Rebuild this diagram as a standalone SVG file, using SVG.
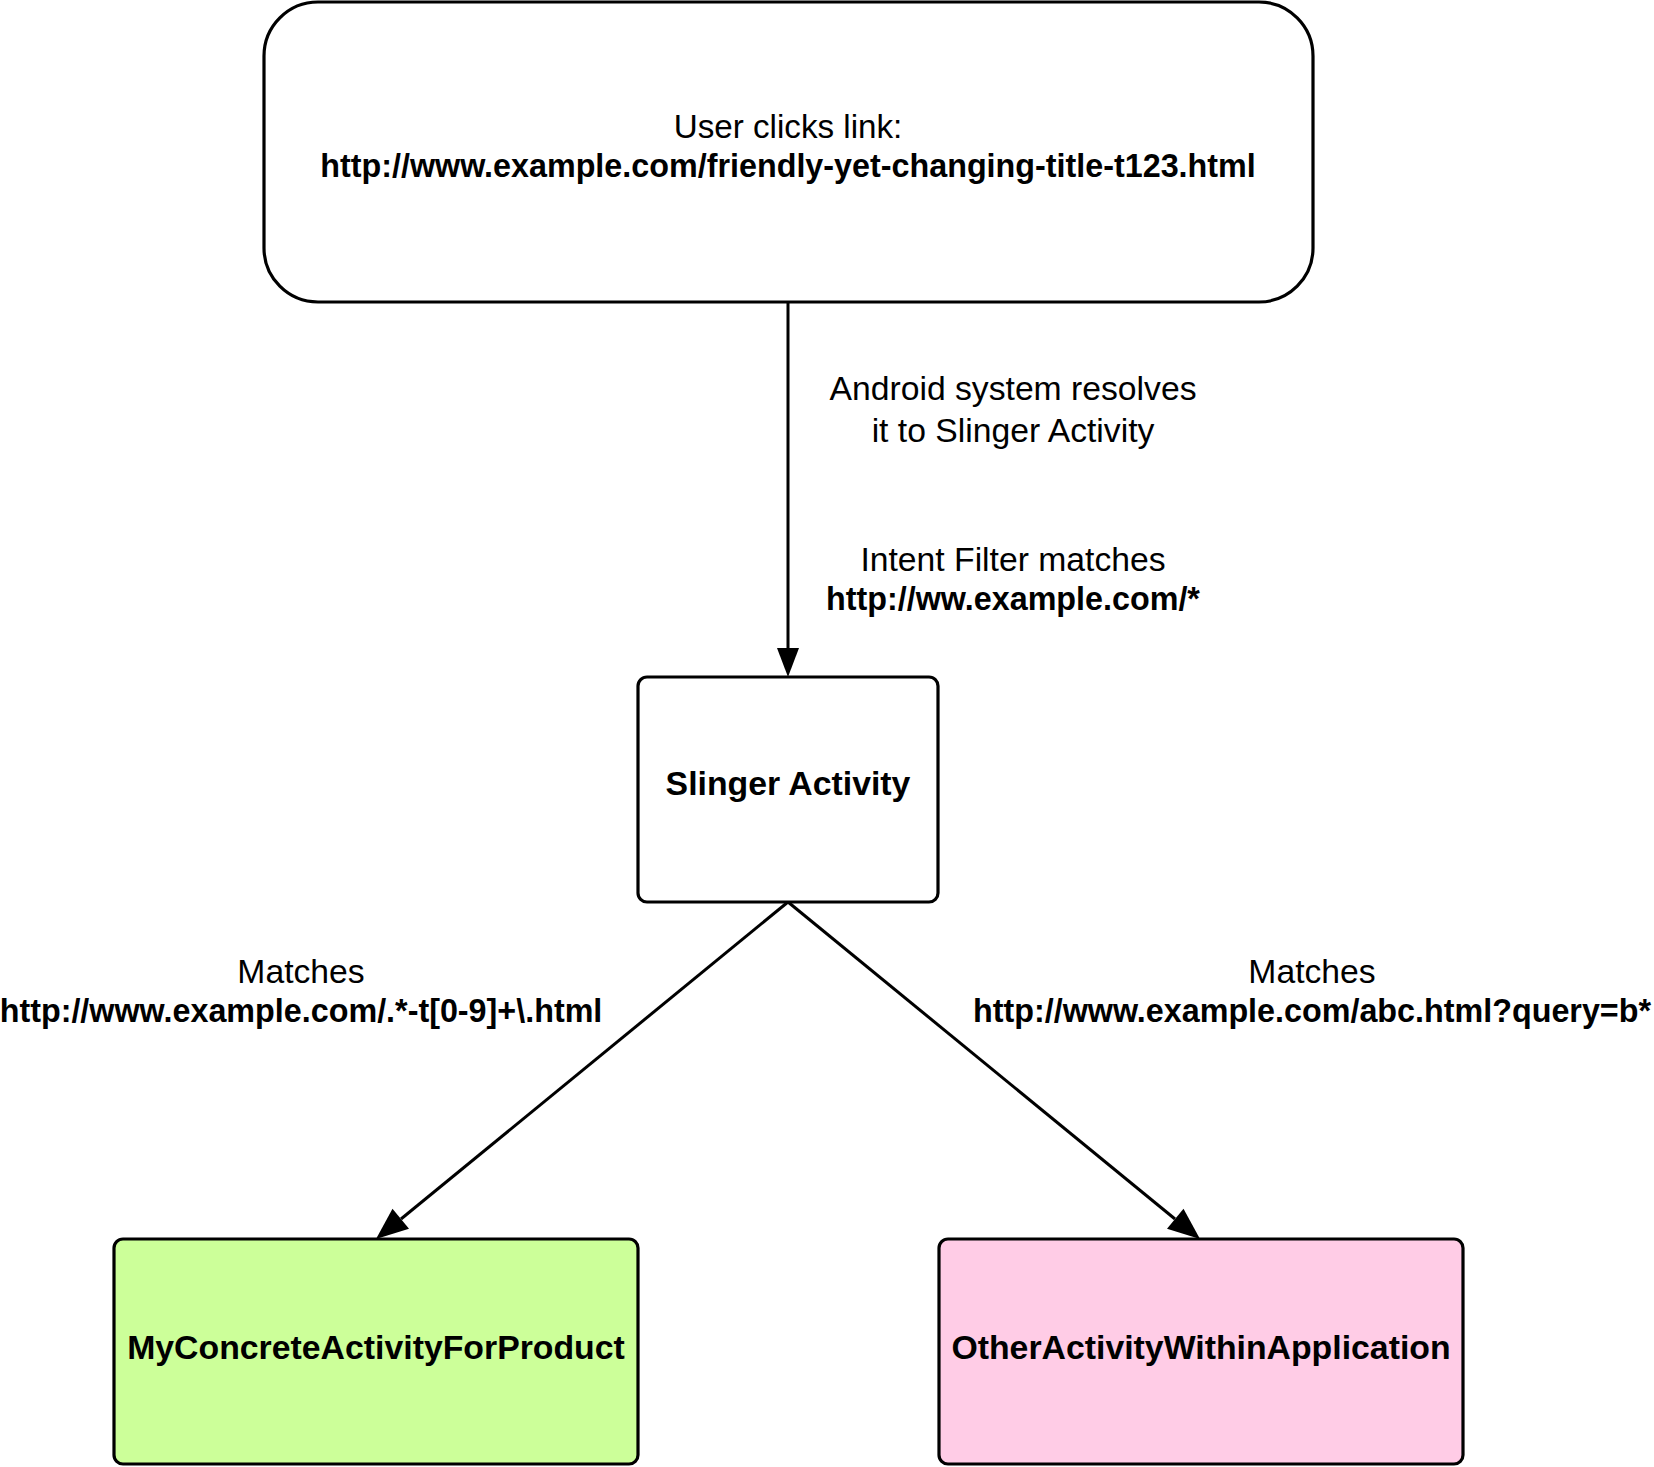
<svg xmlns="http://www.w3.org/2000/svg" width="1654" height="1467" viewBox="0 0 1654 1467">
<style>
.box{stroke:#000;stroke-width:3.2}
.t{font-family:"Liberation Sans",Arial,sans-serif;font-size:33.7px;fill:#000;text-anchor:middle}
.b{font-weight:bold;font-size:32.3px}
.n{font-weight:bold;font-size:33.8px}
.c{stroke:#000;stroke-width:3;fill:none}
.ah{fill:#000}
</style>
<rect width="1654" height="1467" fill="#fff"/>
<g id="connectors">
<line class="c" x1="788" y1="302" x2="788" y2="650"/>
<polygon class="ah" points="777,648 799,648 788,677"/>
<line class="c" x1="788" y1="902" x2="401" y2="1219"/>
<polygon class="ah" points="376,1239 392.5,1208.7 409.0,1228.8"/>
<line class="c" x1="788" y1="902" x2="1175" y2="1219"/>
<polygon class="ah" points="1200,1239 1167.0,1228.8 1183.5,1208.7"/>
<g id="label-resolve">
<text class="t" x="1013" y="400">Android system resolves</text>
<text class="t" x="1013" y="442">it to Slinger Activity</text>
<text class="t" x="1013" y="571">Intent Filter matches</text>
<text class="t b" x="1013" y="610">http://ww.example.com/*</text>
</g>
<g id="label-left">
<text class="t" x="301" y="983">Matches</text>
<text class="t b" x="301" y="1022">http://www.example.com/.*-t[0-9]+\.html</text>
</g>
<g id="label-right">
<text class="t" x="1312" y="983">Matches</text>
<text class="t b" x="1312" y="1022">http://www.example.com/abc.html?query=b*</text>
</g>
</g>
<g id="node-user">
<rect class="box" x="264" y="2" width="1049" height="300" rx="54" ry="54" fill="#fff"/>
<text class="t" x="788" y="138" style="font-size:33.2px">User clicks link:</text>
<text class="t b" x="788" y="177">http://www.example.com/friendly-yet-changing-title-t123.html</text>
</g>
<g id="node-slinger">
<rect class="box" x="638" y="677" width="300" height="225" rx="9" ry="9" fill="#fff"/>
<text class="t n" x="788" y="795">Slinger Activity</text>
</g>
<g id="node-concrete">
<rect class="box" x="114" y="1239" width="524" height="225" rx="9" ry="9" fill="#ccff99"/>
<text class="t n" x="376" y="1359">MyConcreteActivityForProduct</text>
</g>
<g id="node-other">
<rect class="box" x="939" y="1239" width="524" height="225" rx="9" ry="9" fill="#ffcce6"/>
<text class="t n" x="1201" y="1359">OtherActivityWithinApplication</text>
</g>
</svg>
